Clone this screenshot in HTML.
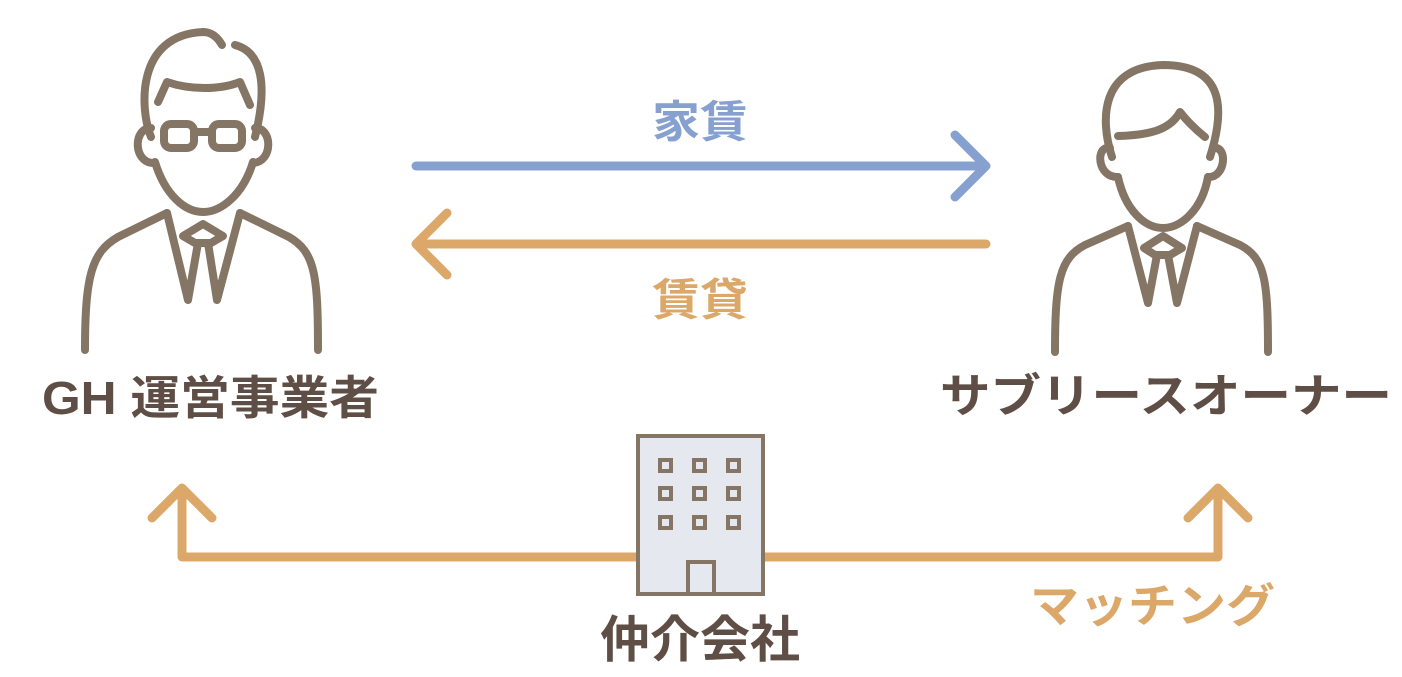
<!DOCTYPE html>
<html><head><meta charset="utf-8"><style>
html,body{margin:0;padding:0;background:#fff;}
svg{display:block}
text{font-family:"Liberation Sans","Noto Sans CJK JP",sans-serif;font-weight:700}
</style></head><body>
<svg width="1402" height="677" viewBox="0 0 1402 677" xmlns="http://www.w3.org/2000/svg">
<g fill="none" stroke="#857565" stroke-width="8" stroke-linecap="round" stroke-linejoin="round">
  <path d="M151,137 C140,110 135,35 203,32 C212,32 218,38 222,45"/>
  <path d="M235,45 C262,52 268,85 255,137"/>
  <path d="M158,102 L167,82 C190,90 220,90 240,82 L250,105"/>
  <rect x="164" y="124" width="30" height="24" rx="7"/>
  <rect x="212" y="124" width="30" height="24" rx="7"/>
  <path d="M194,132 L212,132"/>
  <path d="M151,128 C133,128 133,162 153,163"/>
  <path d="M255,128 C273,128 273,162 253,163"/>
  <path d="M155,162 C165,195 185,212 203,212 C221,212 243,195 253,162"/>
  <path d="M167,213 L118,237 C92,252 85,275 85,350"/>
  <path d="M240,213 L289,237 C315,252 318,275 318,350"/>
  <path d="M167,213 L188,300 L198,243"/>
  <path d="M240,213 L217,300 L208,243"/>
  <path d="M195,243 L183,236 L203,224 L223,236 L211,243 Z"/>
  <path d="M1112,157 C1100,120 1100,67 1163,65 C1225,65 1225,110 1210,157"/>
  <path d="M1118,136 C1150,135 1170,130 1180,112 C1190,125 1200,133 1205,137"/>
  <path d="M1110,148 C1095,145 1097,178 1118,177"/>
  <path d="M1213,148 C1228,145 1226,178 1208,177"/>
  <path d="M1118,177 C1125,210 1145,228 1163,228 C1181,228 1202,210 1208,177"/>
  <path d="M1128,226 L1085,245 C1060,258 1055,280 1055,352"/>
  <path d="M1197,226 L1240,245 C1265,258 1268,280 1268,352"/>
  <path d="M1128,226 L1148,303 L1157,255"/>
  <path d="M1197,226 L1177,303 L1168,255"/>
  <path d="M1155,255 L1144,248 L1163,236 L1182,248 L1170,255 Z"/>
</g>
<g fill="none" stroke-width="9" stroke-linecap="round" stroke-linejoin="round">
  <path d="M416,166 L986,166 M955,135 L986,166 L955,197" stroke="#86a0d0"/>
  <path d="M986,244 L416,244 M447,213 L416,244 L447,275" stroke="#dca86a"/>
  <path d="M637,557 L182,557 L182,488 M152,518 L182,488 L212,518" stroke="#dca86a"/>
  <path d="M764,557 L1218,557 L1218,488 M1188,518 L1218,488 L1248,518" stroke="#dca86a"/>
</g>
<g stroke="#857565" stroke-width="4" fill="#e6e8f0">
  <rect x="638" y="436" width="125" height="158"/>
  <rect x="688" y="562" width="26" height="32"/>
  <rect x="660" y="460" width="11" height="11"/><rect x="694" y="460" width="11" height="11"/><rect x="728" y="460" width="11" height="11"/>
  <rect x="660" y="488" width="11" height="11"/><rect x="694" y="488" width="11" height="11"/><rect x="728" y="488" width="11" height="11"/>
  <rect x="660" y="517" width="11" height="11"/><rect x="694" y="517" width="11" height="11"/><rect x="728" y="517" width="11" height="11"/>
</g>
<text x="652" y="137" font-size="44" fill="#86a0d0" textLength="96" lengthAdjust="spacingAndGlyphs">家賃</text>
<text x="652" y="315" font-size="44" fill="#dca86a" textLength="96" lengthAdjust="spacingAndGlyphs">賃貸</text>
<text x="42" y="414" font-size="46" fill="#5e4e45" textLength="337" lengthAdjust="spacingAndGlyphs">GH 運営事業者</text>
<text x="940" y="412" font-size="46" fill="#5e4e45" textLength="452" lengthAdjust="spacingAndGlyphs">サブリースオーナー</text>
<text x="600" y="657" font-size="50" fill="#5e4e45" textLength="200" lengthAdjust="spacingAndGlyphs">仲介会社</text>
<text x="1030" y="622" font-size="46" fill="#dca86a" textLength="245" lengthAdjust="spacingAndGlyphs">マッチング</text>
</svg>
</body></html>
